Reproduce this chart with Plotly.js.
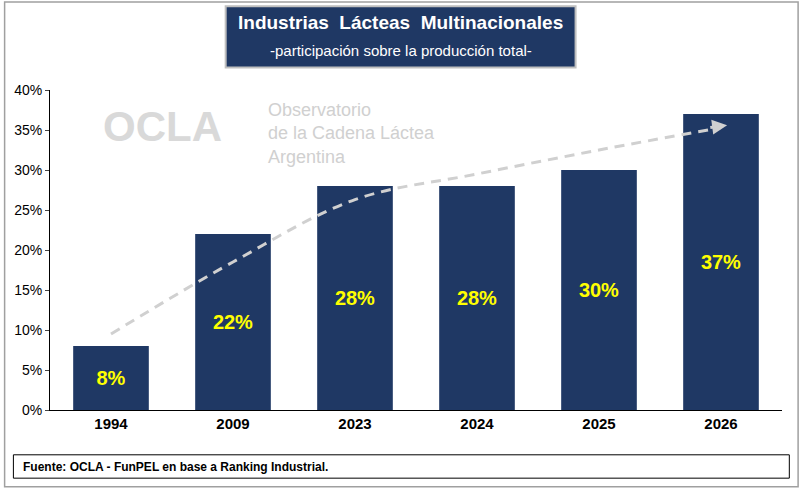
<!DOCTYPE html>
<html>
<head>
<meta charset="utf-8">
<script src="https://cdn.plot.ly/plotly-3.0.1.min.js"></script>
<style>body{margin:0}#chart{width:800px;height:488px}</style>
</head>
<body>
<div id="chart"></div>
<script>
// participación de multinacionales sobre la producción total (%)
const years = ['1994', '2009', '2023', '2024', '2025', '2026']
const shares = [8, 22, 28, 28, 30, 37]
// línea de tendencia decorativa (flecha punteada)
const trend = [9.5, 18.5, 26.3, 29.5, 32.5, 35.3]

const navy = '#1F3864'

const data = [{
  type: 'bar',
  x: years,
  y: shares,
  width: 0.62,
  marker: { color: navy },
  text: shares.map(v => v + '%'),
  textposition: 'inside',
  insidetextanchor: 'middle',
  textfont: { color: '#FFFF00', size: 20, family: 'Liberation Sans', weight: 'bold' },
  hoverinfo: 'x+y'
}, {
  type: 'scatter',
  mode: 'lines',
  x: years,
  y: trend,
  line: { color: '#D0D0D0', width: 3, dash: '10px,7px', shape: 'spline' },
  hoverinfo: 'skip'
}]

const layout = {
  width: 800,
  height: 488,
  margin: { l: 50, r: 18, t: 90, b: 78 },
  paper_bgcolor: '#fff',
  plot_bgcolor: '#fff',
  showlegend: false,
  font: { family: 'Liberation Sans', color: '#000' },
  xaxis: {
    type: 'category',
    showline: true,
    linecolor: '#000',
    ticks: '',
    tickfont: { size: 15, weight: 'bold' }
  },
  yaxis: {
    range: [0, 40],
    dtick: 5,
    ticksuffix: '%',
    showgrid: false,
    zeroline: false,
    showline: true,
    linecolor: '#000',
    ticks: 'outside',
    ticklen: 4,
    tickfont: { size: 14 }
  },
  shapes: [
    { type: 'rect', xref: 'paper', yref: 'paper', x0: -0.062, x1: 1.022, y0: -0.24, y1: 1.275,
      line: { color: '#A0A0A0', width: 1.5 } },
    { type: 'rect', xref: 'paper', yref: 'paper', x0: 0.24, x1: 0.718, y0: 1.07, y1: 1.262,
      fillcolor: navy, line: { color: '#BFBFBF', width: 2 } },
    { type: 'rect', xref: 'paper', yref: 'paper', x0: -0.05, x1: 1.01, y0: -0.213, y1: -0.14,
      line: { color: '#000', width: 1 } }
  ],
  annotations: [
    { xref: 'paper', yref: 'paper', x: 0.479, y: 1.212, yanchor: 'middle', showarrow: false,
      text: '<b>Industrias  Lácteas  Multinacionales</b>', font: { size: 19, color: '#fff' } },
    { xref: 'paper', yref: 'paper', x: 0.479, y: 1.125, yanchor: 'middle', showarrow: false,
      text: '-participación sobre la producción total-', font: { size: 15, color: '#fff' } },
    { xref: 'paper', yref: 'paper', x: -0.04, y: -0.177, xanchor: 'left', yanchor: 'middle', showarrow: false,
      text: '<b>Fuente: OCLA - FunPEL en base a Ranking Industrial.</b>', font: { size: 12 } },
    { xref: 'paper', yref: 'paper', x: 0.07, y: 0.885, xanchor: 'left', yanchor: 'middle', showarrow: false,
      text: '<b>OCLA</b>', font: { size: 42, color: '#D9D9D9' } },
    { xref: 'paper', yref: 'paper', x: 0.295, y: 0.865, xanchor: 'left', yanchor: 'middle', align: 'left', showarrow: false,
      text: 'Observatorio<br>de la Cadena Láctea<br>Argentina', font: { size: 18, color: '#D0D0D0' } },
    { xref: 'x', yref: 'y', x: 5.05, y: 35.6, ax: 4.9, ay: 35.3, axref: 'x', ayref: 'y',
      showarrow: true, arrowhead: 2, arrowsize: 1, arrowwidth: 3, arrowcolor: '#D0D0D0', text: '' }
  ]
}

Plotly.newPlot('chart', data, layout, { displayModeBar: false })
</script>
</body>
</html>
